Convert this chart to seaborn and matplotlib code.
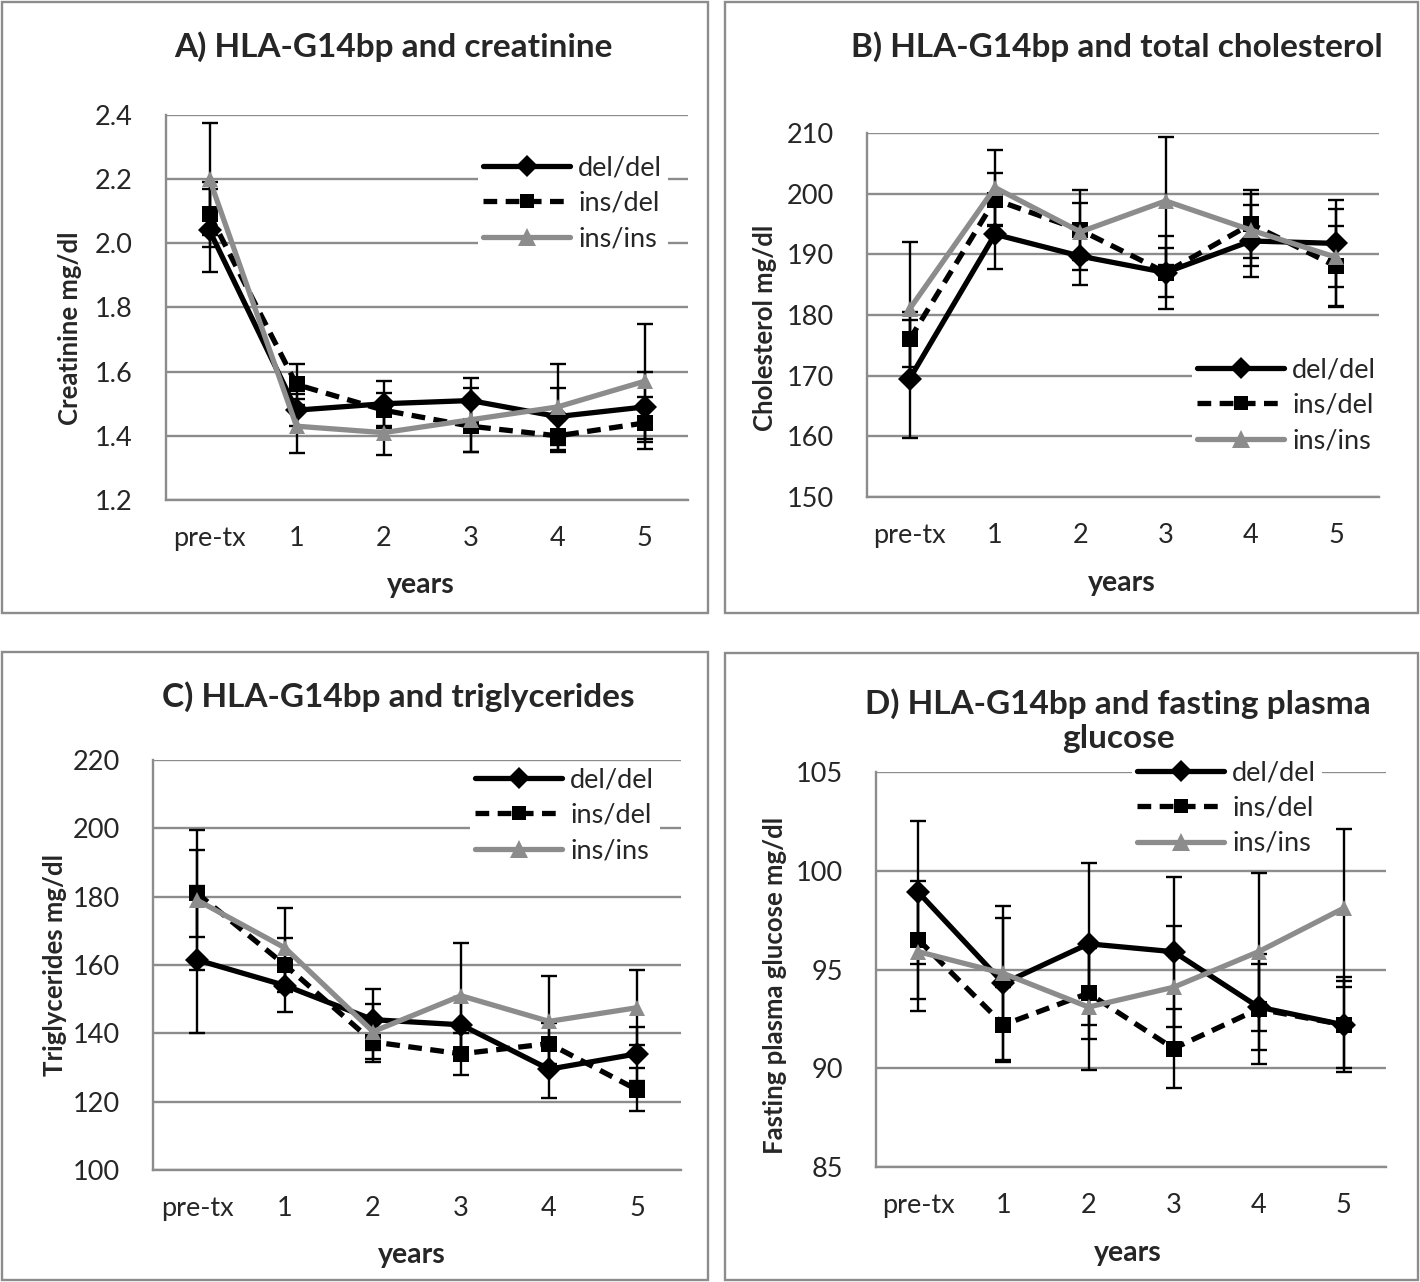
import numpy as np
import pandas as pd
import matplotlib
matplotlib.use('Agg')
import matplotlib.pyplot as plt
from matplotlib.patches import Rectangle
import seaborn as sns

# Данные
categories = ['pre-tx', '1', '2', '3', '4', '5']
genotypes = ['del/del', 'ins/del', 'ins/ins']

creat_deldel = [2.04, 1.48, 1.50, 1.51, 1.46, 1.49]
creat_insdel = [2.09, 1.56, 1.48, 1.43, 1.40, 1.44]
creat_insins = [2.20, 1.43, 1.41, 1.45, 1.49, 1.57]
creat_err_deldel = [0.13, 0.05, 0.07, 0.07, 0.09, 0.11]
creat_err_insdel = [0.10, 0.065, 0.055, 0.08, 0.05, 0.08]
creat_err_insins = [0.175, 0.085, 0.07, 0.10, 0.135, 0.18]

chol_deldel = [169.5, 193.3, 189.7, 187.0, 192.2, 191.8]
chol_insdel = [176.0, 199.0, 194.0, 187.0, 195.0, 188.0]
chol_insins = [181.0, 201.0, 193.7, 198.8, 194.0, 189.5]
chol_err_deldel = [9.7, 5.7, 4.7, 6.0, 6.0, 7.2]
chol_err_insdel = [4.5, 4.4, 6.6, 4.0, 5.6, 6.6]
chol_err_insins = [11.0, 6.2, 4.7, 10.6, 6.0, 8.0]

tg_deldel = [161.5, 154.0, 144.0, 142.5, 129.5, 134.0]
tg_insdel = [181.0, 160.0, 137.5, 134.0, 137.0, 123.5]
tg_insins = [179.0, 165.0, 140.5, 151.0, 143.5, 147.5]
tg_err_deldel = [21.5, 7.7, 9.0, 8.0, 8.5, 8.0]
tg_err_insdel = [12.7, 8.0, 6.0, 6.2, 6.0, 6.3]
tg_err_insins = [20.5, 11.7, 8.0, 15.4, 13.3, 11.0]

glu_deldel = [98.9, 94.3, 96.3, 95.9, 93.1, 92.2]
glu_insdel = [96.5, 92.2, 93.8, 91.0, 93.0, 92.2]
glu_insins = [95.9, 94.8, 93.1, 94.1, 95.9, 98.1]
glu_err_deldel = [3.6, 3.9, 4.1, 3.8, 2.2, 2.4]
glu_err_insdel = [3.0, 1.9, 2.3, 2.0, 2.8, 2.2]
glu_err_insins = [3.0, 2.8, 3.2, 3.1, 4.0, 4.0]

sns.set_style('white')
plt.rcParams['font.family'] = ['Lato', 'DejaVu Sans']

GRAY = '#8c8c8c'
W, H = 1420, 1282
fig = plt.figure(figsize=(W / 100, H / 100), dpi=100)
fig.patch.set_facecolor('white')


def px_rect(l, r, t, b):
    return [l / W, 1 - b / H, (r - l) / W, (b - t) / H]


def fx(x):
    return x / W


def fy(y):
    return 1 - y / H


palette = {'del/del': 'black', 'ins/del': 'black', 'ins/ins': GRAY}
markers = {'del/del': 'D', 'ins/del': 's', 'ins/ins': '^'}
dashes = {'del/del': '', 'ins/del': (2.6, 1.6), 'ins/ins': ''}
msizes = {'del/del': 11, 'ins/del': 10, 'ins/ins': 13}


def draw_panel(ax, series, errors, ylim, yticks, yfmt, leg_xy):
    pos = np.arange(len(categories))
    rows = []
    for g, vals in zip(genotypes, series):
        for p, v in zip(pos, vals):
            rows.append({'pos': p, 'value': v, 'genotype': g})
    df = pd.DataFrame(rows)

    for vals, err in zip(series, errors):
        ax.errorbar(pos, vals, yerr=err, fmt='none', ecolor='black',
                    elinewidth=1.7, capsize=6, capthick=1.7, zorder=2)

    sns.lineplot(data=df, x='pos', y='value', hue='genotype', style='genotype',
                 hue_order=genotypes, style_order=genotypes,
                 palette=palette, markers=markers, dashes=dashes,
                 markersize=12, markeredgewidth=0, linewidth=3.8,
                 ax=ax, zorder=3)

    ax.set_xlim(-0.5, 5.5)
    ax.set_ylim(*ylim)
    ax.set_yticks(yticks)
    ax.set_yticklabels([yfmt.format(t) for t in yticks])
    ax.set_xticks(list(pos) + [5.5])
    ax.set_xticklabels(categories + [''])
    ax.set_xlabel('')
    ax.set_ylabel('')
    ax.grid(axis='y', color=GRAY, linewidth=1.7)
    ax.grid(axis='x', visible=False)
    for s in ['top', 'right']:
        ax.spines[s].set_visible(False)
    for s in ['left', 'bottom']:
        ax.spines[s].set_color(GRAY)
        ax.spines[s].set_linewidth(1.7)
    ax.tick_params(axis='x', length=7, width=1.7, color=GRAY, direction='out',
                   labelsize=19.5, pad=12)
    ax.tick_params(axis='y', length=0, labelsize=19.5, pad=24)

    leg = ax.get_legend()
    handles = leg.legend_handles
    labels = [t.get_text() for t in leg.texts]
    leg.remove()
    for h, g in zip(handles, labels):
        h.set_markersize(msizes[g])
        h.set_markeredgewidth(0)
        h.set_linewidth(3.8)
    ax.legend(handles, labels, loc='upper left',
              bbox_to_anchor=(fx(leg_xy[0]), fy(leg_xy[1])),
              bbox_transform=fig.transFigure, frameon=True, fancybox=False,
              facecolor='white', edgecolor='none', framealpha=1,
              fontsize=19.5, handlelength=3.2, handletextpad=0.3,
              labelspacing=0.38, borderpad=0.2, borderaxespad=0)


# Рамки панелей
for x0, y0, x1, y1 in [(2, 2, 708, 613), (725, 2, 1418, 613),
                       (2, 652, 708, 1280), (725, 653, 1418, 1280)]:
    fig.add_artist(Rectangle((fx(x0), fy(y1)), (x1 - x0) / W, (y1 - y0) / H,
                             transform=fig.transFigure, fill=False,
                             edgecolor=GRAY, linewidth=1.7))

# A) креатинин
axA = fig.add_axes(px_rect(166, 688, 115, 500))
draw_panel(axA, [creat_deldel, creat_insdel, creat_insins],
           [creat_err_deldel, creat_err_insdel, creat_err_insins],
           (1.2, 2.4), np.round(np.arange(1.2, 2.41, 0.2), 1), '{:.1f}', (478, 150))

# B) холестерин
axB = fig.add_axes(px_rect(867, 1379, 133, 497))
draw_panel(axB, [chol_deldel, chol_insdel, chol_insins],
           [chol_err_deldel, chol_err_insdel, chol_err_insins],
           (150, 210), list(range(150, 211, 10)), '{:d}', (1192, 352))

# C) триглицериды
axC = fig.add_axes(px_rect(153, 681, 760, 1170))
draw_panel(axC, [tg_deldel, tg_insdel, tg_insins],
           [tg_err_deldel, tg_err_insdel, tg_err_insins],
           (100, 220), list(range(100, 221, 20)), '{:d}', (470, 762))

# D) глюкоза
axD = fig.add_axes(px_rect(876, 1386, 772, 1167))
draw_panel(axD, [glu_deldel, glu_insdel, glu_insins],
           [glu_err_deldel, glu_err_insdel, glu_err_insins],
           (85, 105), list(range(85, 106, 5)), '{:d}', (1132, 755))

# Заголовки и подписи осей
tkw = dict(fontsize=24, fontweight='bold', ha='center', va='center')
fig.text(fx(393), fy(47), 'A) HLA-G14bp and creatinine', **tkw)
fig.text(fx(1117), fy(47), 'B) HLA-G14bp and total cholesterol', **tkw)
fig.text(fx(398), fy(697), 'C) HLA-G14bp and triglycerides', **tkw)
fig.text(fx(1118), fy(721), 'D) HLA-G14bp and fasting plasma\nglucose',
         linespacing=1.2, **tkw)

xkw = dict(fontsize=20.5, fontweight='bold', ha='center', va='center')
fig.text(fx(421), fy(585), 'years', **xkw)
fig.text(fx(1122), fy(583), 'years', **xkw)
fig.text(fx(412), fy(1255), 'years', **xkw)
fig.text(fx(1128), fy(1253), 'years', **xkw)

lkw = dict(fontsize=18.5, fontweight='bold', ha='center', va='center')
fig.text(fx(70), fy(328), 'Creatinine mg/dl', rotation=90, **lkw)
fig.text(fx(765), fy(328), 'Cholesterol mg/dl', rotation=90, **lkw)
fig.text(fx(55), fy(965), 'Triglycerides mg/dl', rotation=90, **lkw)
fig.text(fx(775), fy(985), 'Fasting plasma glucose mg/dl', rotation=90, **lkw)

fig.savefig('out.png', dpi=100, facecolor='white')
